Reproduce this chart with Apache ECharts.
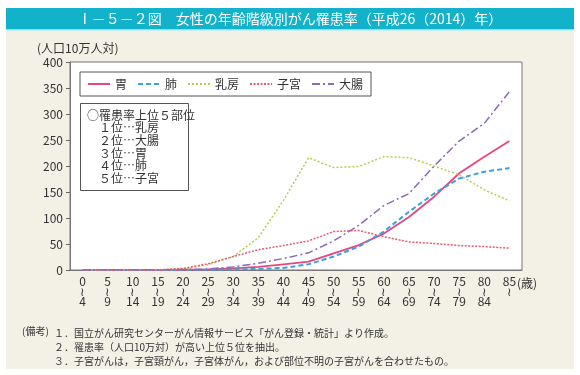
<!DOCTYPE html>
<html>
<head>
<meta charset="utf-8">
<script src="https://cdn.jsdelivr.net/npm/echarts@6/dist/echarts.min.js"></script>
<style>
  html, body { margin: 0; padding: 0; background: #fff; }
  #chart { width: 580px; height: 375px; }
</style>
</head>
<body>
<div id="chart"></div>
<script>
// 年齢階級（始まり・終わり）
var ageFrom = ['0', '5', '10', '15', '20', '25', '30', '35', '40', '45', '50', '55', '60', '65', '70', '75', '80', '85'];
var ageTo = ['4', '9', '14', '19', '24', '29', '34', '39', '44', '49', '54', '59', '64', '69', '74', '79', '84', ''];
// 罹患率（人口10万人対）
var stomach = [0, 0, 0, 0, 0.5, 1, 3, 6, 11, 16, 32, 48, 70, 102, 141, 186, 218, 248];
var lung = [0, 0, 0, 0, 0.3, 0.5, 1, 2, 4, 11, 26, 45, 74, 112, 147, 176, 189, 196];
var breast = [0, 0, 0, 0, 2, 10, 26, 62, 134, 216, 197, 199, 218, 216, 200, 183, 154, 133];
var uterus = [0, 0, 0, 0, 3, 12, 26, 39, 47, 56, 74, 76, 64, 54, 51, 47, 45, 42];
var colon = [0, 0, 0, 0, 0.5, 2, 6, 13, 22, 33, 56, 86, 124, 147, 200, 248, 282, 343];
var yTicks = [0, 50, 100, 150, 200, 250, 300, 350, 400];

var font = '"Noto Sans CJK JP", sans-serif';
var myChart = echarts.init(document.getElementById('chart'));

function line(name, data, color, type, width) {
  return {
    name: name,
    type: 'line',
    data: data,
    symbol: 'none',
    smooth: false,
    lineStyle: { color: color, type: type, width: width },
    itemStyle: { color: color }
  };
}

var option = {
  backgroundColor: '#fff',
  animation: false,
  textStyle: { fontFamily: font },
  graphic: [
    // 背景
    { type: 'rect', shape: { x: 6, y: 31, width: 568, height: 338 }, style: { fill: '#f3f0e6' }, z: -10 },
    // タイトル帯
    { type: 'rect', shape: { x: 6, y: 8, width: 568, height: 21 }, style: { fill: '#12b2ca' }, z: -9 },
    { type: 'rect', shape: { x: 6, y: 29, width: 568, height: 1.5 }, style: { fill: '#8fdde8' }, z: -9 },
    {
      type: 'text', x: 290, y: 18.5, z: 10,
      style: { text: 'Ⅰ－５－２図　女性の年齢階級別がん罹患率（平成26（2014）年）', fill: '#fff', font: '14px ' + font, align: 'center', verticalAlign: 'middle' }
    },
    {
      type: 'text', x: 37, y: 48, z: 10,
      style: { text: '(人口10万人対)', fill: '#333', font: '12px ' + font, verticalAlign: 'middle' }
    },
    {
      type: 'text', x: 517, y: 283, z: 10,
      style: { text: '(歳)', fill: '#333', font: '12px ' + font, verticalAlign: 'middle' }
    },
    // 上位5部位の枠
    { type: 'rect', shape: { x: 80.5, y: 103.5, width: 108, height: 87 }, style: { fill: '#fff', stroke: '#555', lineWidth: 1 }, z: 20 },
    {
      type: 'text', x: 87, y: 109, z: 21,
      style: {
        text: '○罹患率上位５部位\n　１位…乳房\n　２位…大腸\n　３位…胃\n　４位…肺\n　５位…子宮',
        fill: '#333', font: '12px ' + font, lineHeight: 12.6
      }
    },
    // 備考
    {
      type: 'text', x: 22, y: 326, z: 10,
      style: { text: '(備考)', fill: '#333', font: '10px ' + font }
    },
    {
      type: 'text', x: 54, y: 326, z: 10,
      style: {
        text: '１．国立がん研究センターがん情報サービス「がん登録・統計」より作成。\n２．罹患率（人口10万対）が高い上位５位を抽出。\n３．子宮がんは，子宮頸がん，子宮体がん，および部位不明の子宮がんを合わせたもの。',
        fill: '#333', font: '10px ' + font, lineHeight: 14
      }
    }
  ],
  legend: {
    left: 80,
    top: 72,
    orient: 'horizontal',
    padding: [6, 8, 6, 7],
    backgroundColor: '#fff',
    borderColor: '#555',
    borderWidth: 1,
    itemWidth: 22,
    itemHeight: 8,
    itemGap: 10,
    itemStyle: { opacity: 0 },
    textStyle: { fontSize: 12, color: '#333', fontFamily: font },
    data: ['胃', '肺', '乳房', '子宮', '大腸']
  },
  grid: {
    left: 70,
    right: 58,
    top: 62,
    bottom: 105,
    show: true,
    backgroundColor: '#fff',
    borderColor: '#777',
    borderWidth: 1
  },
  xAxis: {
    type: 'category',
    data: ageFrom,
    boundaryGap: true,
    axisLine: { lineStyle: { color: '#777' } },
    axisTick: { inside: true, alignWithLabel: true, length: 5, lineStyle: { color: '#666' } },
    axisLabel: {
      interval: 0,
      margin: 6,
      color: '#333',
      fontSize: 12,
      lineHeight: 10,
      formatter: function (v, i) { return v + '\n≀\n' + ageTo[i]; }
    }
  },
  yAxis: {
    type: 'value',
    min: yTicks[0],
    max: yTicks[yTicks.length - 1],
    interval: 50,
    splitLine: { show: false },
    axisLine: { show: true, lineStyle: { color: '#777' } },
    axisTick: { show: true, length: 4, lineStyle: { color: '#666' } },
    axisLabel: { color: '#333', fontSize: 12, margin: 7 }
  },
  series: [
    line('胃', stomach, '#e8467c', 'solid', 1.8),
    line('肺', lung, '#3b9fe0', [5, 3], 2),
    line('乳房', breast, '#b9cc4c', [2, 2], 1.5),
    line('子宮', uterus, '#e65a6e', [2, 1.5], 1.5),
    line('大腸', colon, '#8a6bb6', [8, 3, 2, 3], 1.5)
  ]
};
myChart.setOption(option);
</script>
</body>
</html>
